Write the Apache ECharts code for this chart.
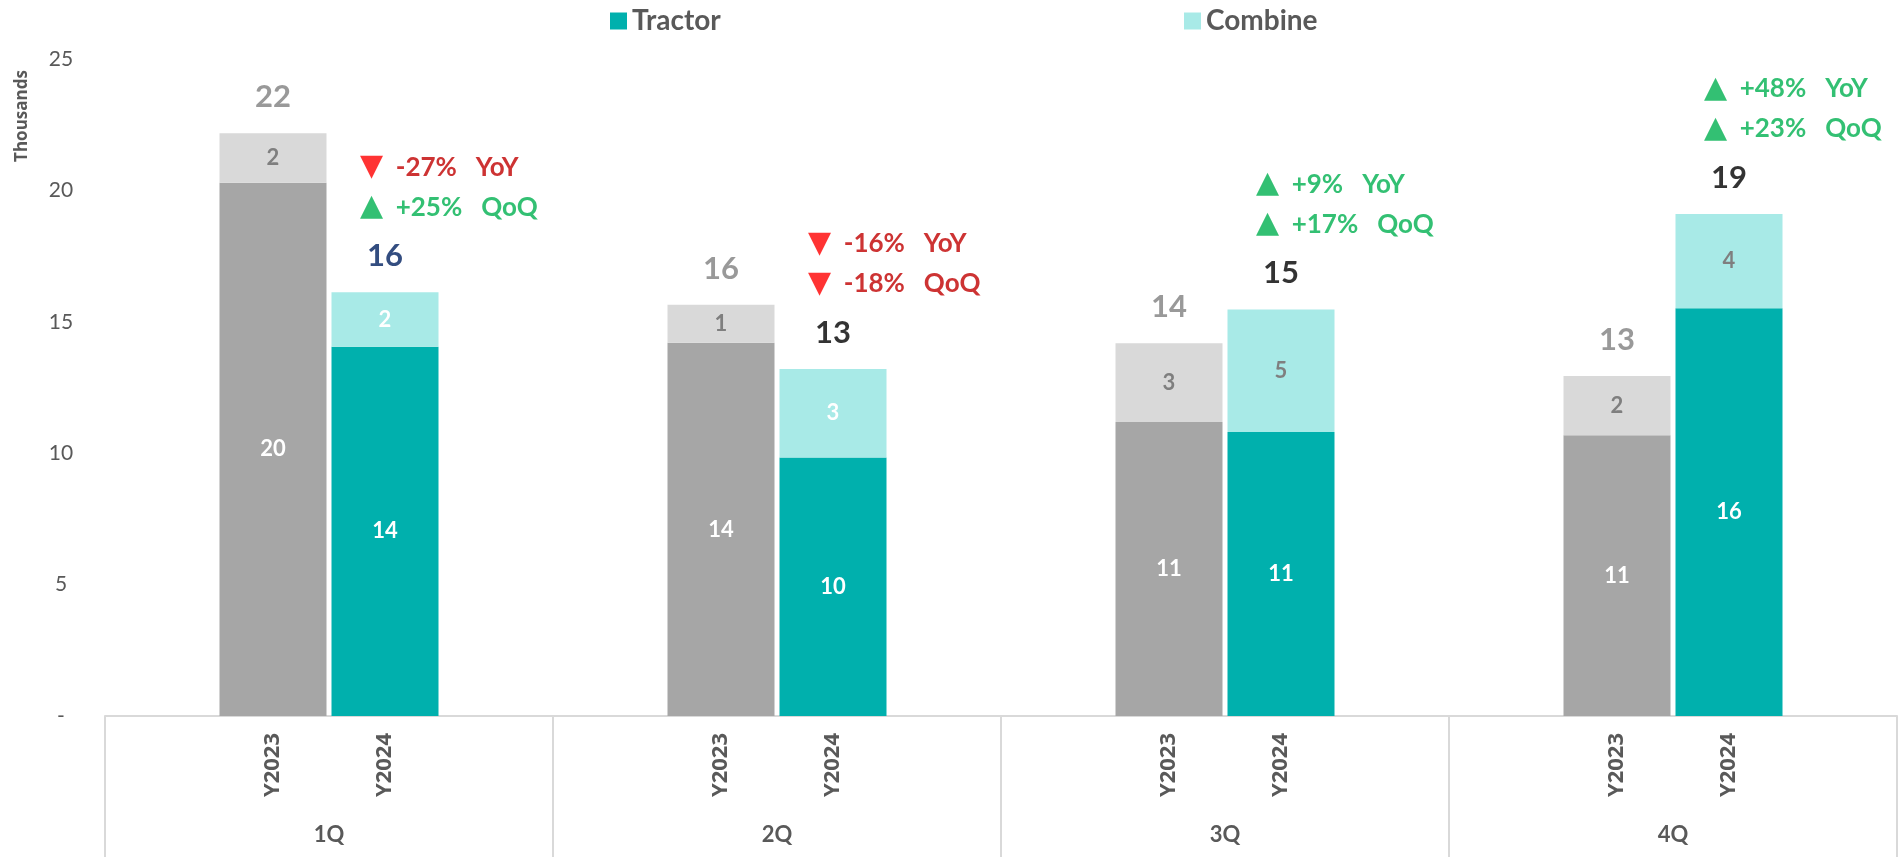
<!DOCTYPE html>
<html>
<head>
<meta charset="utf-8">
<script src="https://cdn.jsdelivr.net/npm/echarts@6/dist/echarts.min.js"></script>
<style>
  html, body { margin: 0; padding: 0; background: #fff; }
  #chart { width: 1898px; height: 857px; }
</style>
</head>
<body>
<div id="chart"></div>
<script>
// values in thousands
var quarters = ['1Q', '2Q', '3Q', '4Q'];
var years = ['Y2023', 'Y2024'];
var tractor2023 = [20.29, 14.2, 11.19, 10.68];
var combine2023 = [1.88, 1.45, 2.99, 2.26];
var tractor2024 = [14.05, 9.84, 10.81, 15.52];
var combine2024 = [2.07, 3.36, 4.66, 3.58];
var yoyPct = ['-27%', '-16%', '+9%', '+48%'];
var qoqPct = ['+25%', '-18%', '+17%', '+23%'];
var yTicks = [0, 5, 10, 15, 20, 25];

var FONT = 'Lato, "Liberation Sans", sans-serif';
var GREY = '#595959';

// each quarter gets 4 slots: pad, Y2023, Y2024, pad
var slots = [];
quarters.forEach(function (q) {
	slots.push(q + '_pad1', q + '_' + years[0], q + '_' + years[1], q + '_pad2');
});

var tractorData = [], combineData = [], totalData = [], yoyData = [], qoqData = [];
quarters.forEach(function (q, i) {
	var tot23 = tractor2023[i] + combine2023[i];
	var tot24 = tractor2024[i] + combine2024[i];
	tractorData.push(null, {value: tractor2023[i], itemStyle: {color: '#a6a6a6'}}, tractor2024[i], null);
	combineData.push(null,
		{value: combine2023[i], itemStyle: {color: '#d9d9d9'}, label: {color: '#7f7f7f'}},
		{value: combine2024[i], label: {color: i < 2 ? '#ffffff' : '#7f7f7f'}},
		null);
	totalData.push(null,
		{value: tot23, label: {color: '#7f7f7f'}},
		{value: tot24, label: {color: i === 0 ? '#002060' : '#000000'}},
		null);
	yoyData.push(null, null, tot24, null);
	qoqData.push(null, null, tot24, null);
});

function changeText(pct, word) {
	var up = pct.charAt(0) === '+';
	return (up ? '{up|▲}' : '{dn|▼}') + (up ? '{pos|' : '{neg|') + '  ' + pct + '   ' + word + '}';
}

var changeRich = {
	up: {color: '#00b050', fontSize: 30, fontFamily: 'DejaVu Sans'},
	dn: {color: '#ff0000', fontSize: 30, fontFamily: 'DejaVu Sans'},
	pos: {color: '#00b050', fontSize: 26, fontWeight: 'bold', fontFamily: FONT},
	neg: {color: '#c00000', fontSize: 26, fontWeight: 'bold', fontFamily: FONT}
};

function annotationSeries(name, data, texts, word, dy) {
	return {
		name: name,
		type: 'scatter',
		data: data,
		symbolSize: 1,
		itemStyle: {color: 'rgba(0,0,0,0)'},
		silent: true,
		z: 5,
		label: {
			show: true,
			position: 'inside',
			align: 'left',
			verticalAlign: 'middle',
			offset: [-25, dy],
			formatter: function (p) {
				return changeText(texts[Math.floor(p.dataIndex / 4)], word);
			},
			rich: changeRich
		}
	};
}

var chart = echarts.init(document.getElementById('chart'));
var option = {
	animation: false,
	backgroundColor: '#ffffff',
	grid: {left: 105, right: 1, top: 59, bottom: 141, containLabel: false, outerBoundsMode: 'none'},
	legend: [
		{
			data: ['Tractor'], left: 605, top: 2, icon: 'rect', itemWidth: 17, itemHeight: 17,
			textStyle: {fontSize: 28, fontWeight: 'bold', color: GREY, fontFamily: FONT}
		},
		{
			data: ['Combine'], left: 1179, top: 2, icon: 'rect', itemWidth: 17, itemHeight: 17,
			textStyle: {fontSize: 28, fontWeight: 'bold', color: GREY, fontFamily: FONT}
		}
	],
	graphic: [{
		type: 'text',
		x: 22,
		y: 116,
		rotation: Math.PI / 2,
		style: {
			text: 'Thousands', fill: GREY, fontSize: 17, fontWeight: 'bold',
			fontFamily: '"Open Sans", sans-serif', align: 'center', verticalAlign: 'middle'
		}
	}],
	xAxis: [
		{
			type: 'category',
			data: slots,
			axisLine: {lineStyle: {color: '#d9d9d9', width: 2}},
			axisTick: {show: false},
			axisLabel: {
				interval: 0,
				rotate: 90,
				margin: 17,
				fontSize: 22,
				fontWeight: 'bold',
				color: GREY,
				fontFamily: '"Open Sans", sans-serif',
				formatter: function (v) {
					var y = v.split('_')[1];
					return years.indexOf(y) >= 0 ? y : '';
				}
			}
		},
		{
			type: 'category',
			data: quarters,
			position: 'bottom',
			axisLine: {show: false},
			axisTick: {show: true, length: 141, interval: 0, lineStyle: {color: '#d9d9d9', width: 2}},
			axisLabel: {margin: 108, fontSize: 22, fontWeight: 'bold', color: GREY, fontFamily: FONT}
		}
	],
	yAxis: {
		type: 'value',
		min: yTicks[0],
		max: yTicks[yTicks.length - 1],
		interval: 5,
		splitLine: {show: false},
		axisLine: {show: false},
		axisTick: {show: false},
		axisLabel: {
			align: 'center',
			margin: 44,
			fontSize: 21,
			color: GREY,
			fontFamily: FONT,
			formatter: function (v) { return v === 0 ? '-' : v; }
		}
	},
	series: [
		{
			name: 'Tractor',
			type: 'bar',
			stack: 'units',
			barWidth: 107,
			data: tractorData,
			itemStyle: {color: '#00b0ad'},
			label: {
				show: true, position: 'inside', color: '#ffffff', fontSize: 22, fontWeight: 'bold', fontFamily: FONT,
				formatter: function (p) { return Math.round(p.value); }
			}
		},
		{
			name: 'Combine',
			type: 'bar',
			stack: 'units',
			barWidth: 107,
			data: combineData,
			itemStyle: {color: '#a8eae7'},
			label: {
				show: true, position: 'inside', color: '#ffffff', fontSize: 22, fontWeight: 'bold', fontFamily: FONT,
				formatter: function (p) { return Math.round(p.value); }
			}
		},
		{
			name: 'Total',
			type: 'scatter',
			data: totalData,
			symbolSize: 1,
			itemStyle: {color: 'rgba(0,0,0,0)'},
			silent: true,
			label: {
				show: true, position: 'inside', offset: [0, -36], fontSize: 31, fontWeight: 'bold', fontFamily: FONT,
				formatter: function (p) { return Math.round(p.value); }
			}
		},
		annotationSeries('YoY', yoyData, yoyPct, 'YoY', -125),
		annotationSeries('QoQ', qoqData, qoqPct, 'QoQ', -85)
	]
};
chart.setOption(option);
</script>
</body>
</html>
